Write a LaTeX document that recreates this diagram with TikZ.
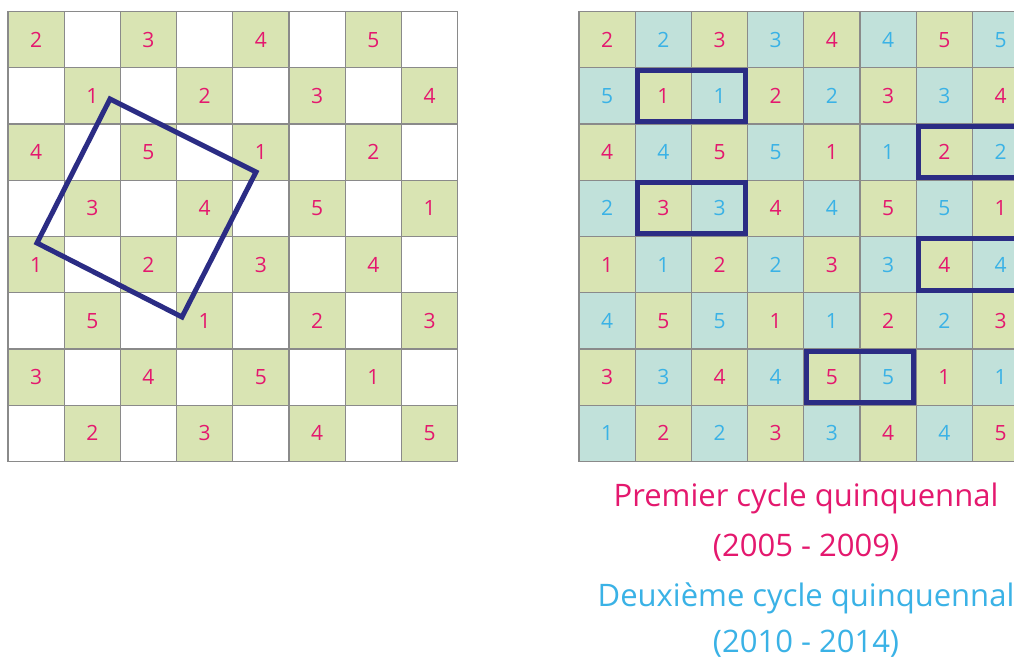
\documentclass[tikz,border=0pt]{standalone}
\usepackage{fontspec}
\setmainfont{Open Sans}
\usetikzlibrary{calc}
\definecolor{cellgreen}{RGB}{217,228,179}
\definecolor{cellblue}{RGB}{193,225,218}
\definecolor{numpink}{RGB}{228,24,110}
\definecolor{numblue}{RGB}{58,178,230}
\definecolor{navy}{RGB}{43,44,132}
\definecolor{gridgray}{RGB}{138,138,138}
\begin{document}
\begin{tikzpicture}[x=1pt,y=-1pt,
  cell/.style={minimum width=56.2pt,minimum height=56.25pt,inner sep=0pt,outer sep=0pt,
    font=\fontsize{21}{21}\selectfont},
  gcell/.style={cell,fill=cellgreen,text=numpink},
  bcell/.style={cell,fill=cellblue,text=numblue},
  wcell/.style={cell,fill=white},
  gridline/.style={draw=gridgray,line width=1.3pt},
  frame/.style={draw=navy,line width=5pt,line join=miter},
  caption/.style={anchor=base,font=\fontsize{31}{31}\selectfont}]
\clip (0,0) rectangle (1014,660);
\fill[white] (0,0) rectangle (1014,660);
% left grid
\foreach \row [count=\r from 0] in {{2,0,3,0,4,0,5,0},{0,1,0,2,0,3,0,4},{4,0,5,0,1,0,2,0},{0,3,0,4,0,5,0,1},{1,0,2,0,3,0,4,0},{0,5,0,1,0,2,0,3},{3,0,4,0,5,0,1,0},{0,2,0,3,0,4,0,5}}{
  \foreach \v [count=\c from 0] in \row {
    \pgfmathsetmacro{\cx}{8+56.2*\c+28.1}
    \pgfmathsetmacro{\cy}{11.5+56.25*\r+28.125}
    \ifnum\v=0
      \node[wcell] (L-\r-\c) at (\cx,\cy) {};
    \else
      \node[gcell] (L-\r-\c) at (\cx,\cy) {\v};
    \fi
  }
}
\foreach \i in {0,...,8}{
  \draw[gridline] ({8+56.2*\i},11.5) -- ({8+56.2*\i},461.5);
  \draw[gridline] (8,{11.5+56.25*\i}) -- (457.6,{11.5+56.25*\i});
}
% right grid
\foreach \row [count=\r from 0] in {{2,2,3,3,4,4,5,5},{5,1,1,2,2,3,3,4},{4,4,5,5,1,1,2,2},{2,3,3,4,4,5,5,1},{1,1,2,2,3,3,4,4},{4,5,5,1,1,2,2,3},{3,3,4,4,5,5,1,1},{1,2,2,3,3,4,4,5}}{
  \foreach \v [count=\c from 0] in \row {
    \pgfmathsetmacro{\cx}{579+56.2*\c+28.1}
    \pgfmathsetmacro{\cy}{11.5+56.25*\r+28.125}
    \pgfmathtruncatemacro{\parity}{mod(\r+\c,2)}
    \ifnum\parity=0
      \node[gcell] (R-\r-\c) at (\cx,\cy) {\v};
    \else
      \node[bcell] (R-\r-\c) at (\cx,\cy) {\v};
    \fi
  }
}
\foreach \i in {0,...,8}{
  \draw[gridline] ({579+56.2*\i},11.5) -- ({579+56.2*\i},461.5);
  \draw[gridline] (579,{11.5+56.25*\i}) -- (1028.6,{11.5+56.25*\i});
}
% frames
\draw[frame] (110,99) -- (256,172) -- (182,317) -- (37,243) -- cycle;
\draw[frame] ($(R-1-1.north west)+(2.5,2.5)$) rectangle ($(R-1-2.south east)+(-2.5,-2.5)$);
\draw[frame] ($(R-3-1.north west)+(2.5,2.5)$) rectangle ($(R-3-2.south east)+(-2.5,-2.5)$);
\draw[frame] ($(R-2-6.north west)+(2.5,2.5)$) rectangle ($(R-2-7.south east)+(-2.5,-2.5)$);
\draw[frame] ($(R-4-6.north west)+(2.5,2.5)$) rectangle ($(R-4-7.south east)+(-2.5,-2.5)$);
\draw[frame] ($(R-6-4.north west)+(2.5,2.5)$) rectangle ($(R-6-5.south east)+(-2.5,-2.5)$);
% captions
\node[caption,text=numpink] (c1) at (806,506) {Premier cycle quinquennal};
\node[caption,text=numpink] (c2) at (806,556) {(2005 - 2009)};
\node[caption,text=numblue] (c3) at (806,606) {Deuxième cycle quinquennal};
\node[caption,text=numblue] (c4) at (806,652) {(2010 - 2014)};
\end{tikzpicture}
\end{document}
